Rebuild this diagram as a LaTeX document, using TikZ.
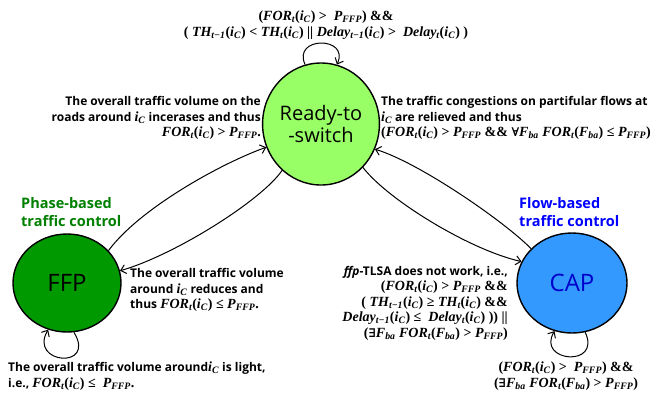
\documentclass[tikz,border=0pt]{standalone}
\usepackage[no-math]{fontspec}
\setmainfont{Open Sans}
\newfontfamily\mfont{Liberation Serif}
\newfontfamily\symfnt{DejaVu Serif}
\usetikzlibrary{shapes.geometric,arrows.meta}
\definecolor{readyg}{RGB}{153,255,102}
\definecolor{ffpg}{RGB}{0,153,0}
\definecolor{capb}{RGB}{51,153,255}
\definecolor{capt}{RGB}{0,0,204}
\definecolor{phaseg}{RGB}{0,128,0}
\definecolor{flowb}{RGB}{0,0,255}
\newcommand\M[1]{{\mfont\bfseries\fontsize{14}{15.5}\selectfont #1}}
\newcommand\V[1]{{\itshape #1}}
\newcommand\sub[1]{\textsubscript{\itshape #1}}
\newcommand\FORt{\V{FOR}\sub{t}}
\newcommand\iCC{\V{i}\sub{C}}
\newcommand\PF{\V{P}\sub{FFP}}
\newcommand\Fba{\V{F}\sub{ba}}
\newcommand\exs{{\symfnt\fontsize{12}{14}\selectfont ∃}}
\newcommand\fas{{\symfnt\fontsize{12}{14}\selectfont ∀}}
\tikzset{
  statenode/.style={draw=black,line width=1.4pt,ellipse,inner sep=0pt},
  lbl/.style={font={\fontsize{12}{15.5}\selectfont\bfseries},inner sep=0pt},
  ctl/.style={font={\fontsize{14.5}{18.5}\selectfont\bfseries},inner sep=0pt,align=left},
  conn/.style={line width=1pt,-{Straight Barb[length=5pt,width=9pt]}}
}
\begin{document}
\begin{tikzpicture}[x=1pt,y=-1pt]
\useasboundingbox (0,0) rectangle (653,392);
\node[statenode,fill=readyg,minimum width=108pt,minimum height=122pt,align=center,font={\fontsize{20}{22}\selectfont}] (R) at (321,124) {Ready-to\\-switch};
\node[statenode,fill=ffpg,minimum width=108pt,minimum height=98pt,font={\fontsize{24}{26}\selectfont}] (F) at (67,283) {FFP};
\node[statenode,fill=capb,minimum width=110pt,minimum height=100pt,text=capt,font={\fontsize{24}{26}\selectfont}] (C) at (572,283) {CAP};

\node[ctl,text=phaseg,anchor=west] (phase) at (21,212) {Phase-based\\traffic control};
\node[ctl,text=flowb,anchor=west] (flow) at (519,212) {Flow-based\\traffic control};

% connectors
\draw[conn] (F.38) .. controls (140,208) and (222,163) .. (R.203);
\draw[conn] (R.230) .. controls (262,200) and (175,255) .. (F.13);
\draw[conn] (R.314) .. controls (388,200) and (470,250) .. (C.157);
\draw[conn] (C.140) .. controls (505,222) and (420,163) .. (R.335);
% loops
\draw[conn] (R.105) .. controls (292,36) and (350,36) .. (R.75);
\draw[conn] (F.-82) .. controls (97,370) and (28,364) .. (F.-112);
\draw[conn] (C.-75) .. controls (602,368) and (536,362) .. (C.-110);

% labels
\node[lbl,align=center] (ltop) at (326,25) {\M{(\FORt(\iCC) > \ \PF) \&\&}\\\M{( \V{TH}\sub{t−1}(\iCC) < \V{TH}\sub{t}(\iCC) || \V{Delay}\sub{t−1}(\iCC) > \ \V{Delay}\sub{t}(\iCC) )}};
\node[lbl,align=right,anchor=east] (lup) at (261,118) {The overall traffic volume on the\\roads around \M{\iCC} incerases and thus\\\M{\FORt(\iCC) > \PF.}};
\node[lbl,align=left,anchor=west] (rup) at (381,118) {The traffic congestions on partifular flows at\\\M{\iCC} are relieved and thus\\\M{(\FORt(\iCC) > \PF{} \&\& \fas\Fba{} \FORt(\Fba) ≤ \PF)}};
\node[lbl,align=left,anchor=west] (lred) at (130,290) {The overall traffic volume\\around \M{\iCC} reduces and\\thus \M{\FORt(\iCC) ≤ \PF.}};
\node[lbl,align=right,anchor=east] (lcap) at (508,303) {\textit{ffp}-TLSA does not work, i.e.,\\\M{(\FORt(\iCC) > \PF{} \&\&}\\\M{( \V{TH}\sub{t−1}(\iCC) ≥ \V{TH}\sub{t}(\iCC) \&\&}\\\M{\V{Delay}\sub{t−1}(\iCC) ≤ \ \V{Delay}\sub{t}(\iCC) )) ||}\\\M{(\exs\Fba{} \FORt(\Fba) > \PF)}};
\node[lbl,align=left,anchor=west] (lffp) at (8,376) {The overall traffic volume around\M{\iCC} is light,\\i.e., \M{\FORt(\iCC) ≤ \ \PF.}};
\node[lbl,align=center] (lcapl) at (566,376) {\M{(\FORt(\iCC) > \ \PF) \&\&}\\\M{(\exs\Fba{} \FORt(\Fba) > \PF)}};
\end{tikzpicture}
\end{document}
